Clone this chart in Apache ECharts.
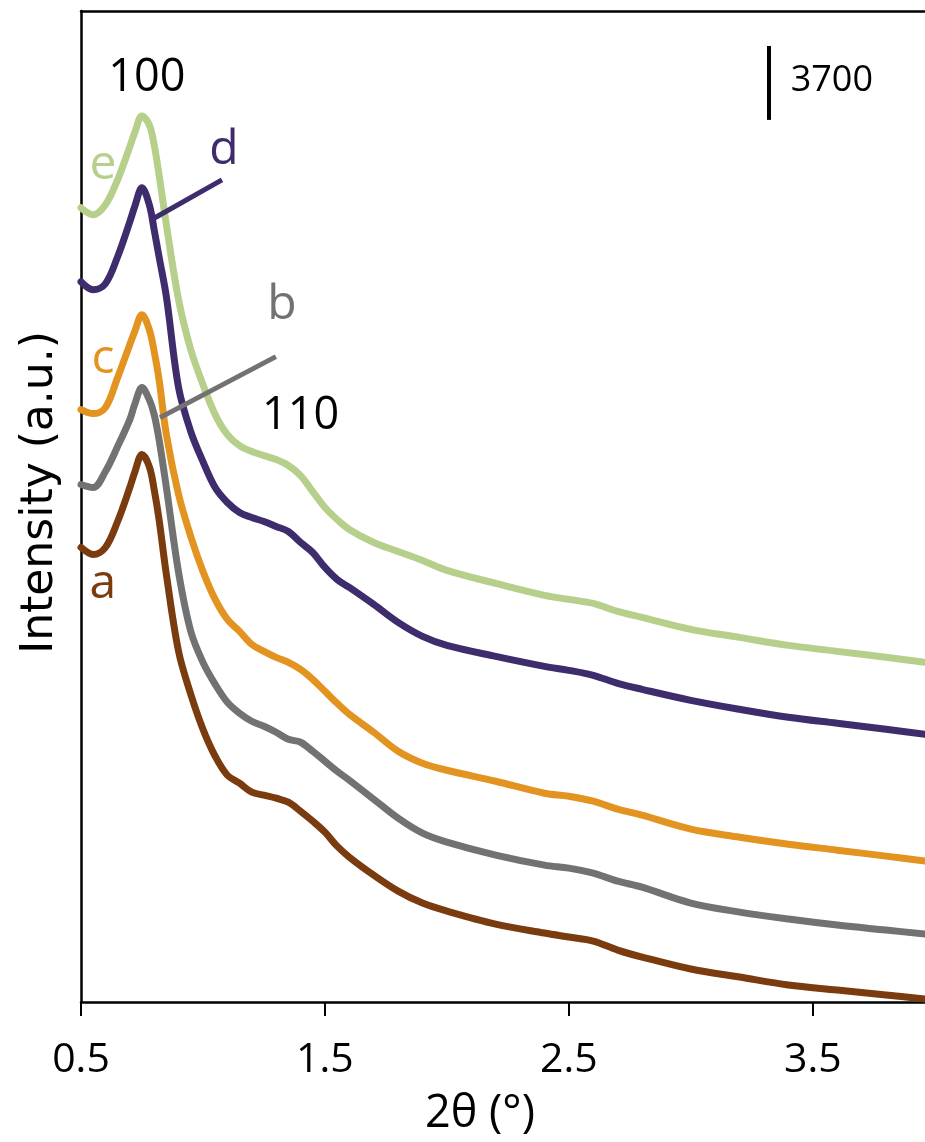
<!DOCTYPE html>
<html><head><meta charset="utf-8">
<script src="https://cdn.jsdelivr.net/npm/echarts@6/dist/echarts.min.js"></script>
<style>html,body{margin:0;padding:0;background:#fff}#chart{width:925px;height:1142px}</style>
</head><body><div id="chart"></div>
<script>
// 2θ (degrees)
const twoTheta = [0.5,0.55,0.6,0.65,0.7,0.72,0.75,0.78,0.8,0.82,0.85,0.9,0.95,1.0,1.05,1.1,1.15,1.2,1.25,1.3,1.35,1.4,1.45,1.5,1.55,1.6,1.7,1.8,1.9,2.0,2.2,2.4,2.5,2.6,2.7,2.8,3.0,3.2,3.4,3.6,3.8,3.96];
// intensities (counts, curves offset vertically)
const intensityA = [22750,22400,22750,24050,25750,26500,27400,26800,25650,24150,21400,17550,15400,13650,12300,11350,10950,10500,10350,10200,10000,9550,9050,8500,7800,7250,6350,5550,4950,4550,3900,3450,3250,3050,2600,2250,1650,1250,850,600,350,150];
const intensityB = [25900,25750,26550,27800,29150,29900,30750,30150,29400,28150,25750,21500,18550,17000,15900,15000,14450,14050,13800,13500,13150,13000,12550,12050,11550,11100,10150,9200,8450,8000,7350,6850,6700,6450,6050,5750,4950,4500,4150,3850,3600,3400];
const intensityC = [29650,29450,29750,31250,32900,33550,34400,33650,32550,31150,28400,25400,23300,21550,20150,19150,18550,17900,17550,17250,17000,16650,16150,15550,14950,14400,13500,12550,11950,11600,11050,10450,10300,10050,9650,9350,8650,8250,7900,7600,7300,7050];
const intensityD = [36050,35650,35950,37300,39050,39800,40750,39900,38650,37300,35300,30750,28550,27050,25750,25000,24500,24250,24050,23800,23550,23000,22500,21750,21150,20750,19900,19000,18300,17850,17300,16800,16600,16350,15950,15650,15100,14650,14250,13950,13650,13400];
const intensityE = [39750,39400,39900,41150,42800,43500,44350,43900,42900,41400,38900,35150,32650,30900,29400,28400,27850,27550,27350,27150,26850,26350,25550,24750,24150,23650,23000,22550,22100,21600,20950,20350,20150,19950,19550,19250,18650,18250,17850,17550,17250,17000];
const xTickValues = [0.5, 1.5, 2.5, 3.5];
const sampleNames = ['a', 'b', 'c', 'd', 'e'];
const peakLabels = ['100', '110'];
const scaleBarValue = 3700;

const FONT = "'Open Sans', 'Liberation Sans', sans-serif";
const colors = { a: '#7a3c0e', b: '#727272', c: '#e3931f', d: '#3e2c6c', e: '#b6d08c' };

function toPairs(ys) { return twoTheta.map((x, i) => [x, ys[i]]); }
function textPoint(text, coord, color, size) {
  return {
    coord: coord, value: text, symbol: 'circle', symbolSize: 1,
    itemStyle: { color: 'rgba(0,0,0,0)' },
    label: { show: true, position: 'inside', formatter: text, color: color, fontSize: size, fontFamily: FONT }
  };
}
function leader(from, to, color, width) {
  return { symbol: ['none', 'none'], silent: true, label: { show: false },
    lineStyle: { color: color, width: width, type: 'solid' },
    data: [[{ coord: from }, { coord: to }]] };
}
function lineSeries(name, ys, extra) {
  return Object.assign({
    name: name, type: 'line', data: toPairs(ys), showSymbol: false, symbol: 'none',
    smooth: 0.35,
    lineStyle: { color: colors[name], width: 7, join: 'round', cap: 'round' }, itemStyle: { color: colors[name] },
    emphasis: { disabled: true }
  }, extra || {});
}

const chart = echarts.init(document.getElementById('chart'), null, { renderer: 'canvas' });
chart.setOption({
  animation: false,
  backgroundColor: '#ffffff',
  grid: { left: 81, right: 0, top: 11, bottom: 139 },
  xAxis: [{
    type: 'value', min: 0.5, max: 3.96, position: 'bottom',
    name: '2θ (°)', nameLocation: 'middle', nameGap: 90,
    nameTextStyle: { fontSize: 45, color: '#000', fontFamily: FONT, padding: [0, 46, 0, 0] },
    axisLine: { show: true, onZero: false, lineStyle: { color: '#000', width: 2.5 } },
    axisTick: { show: true, inside: false, length: 14, customValues: xTickValues, lineStyle: { color: '#000', width: 2 } },
    axisLabel: { show: true, margin: 38, customValues: xTickValues, fontSize: 41, color: '#000', fontFamily: FONT,
      formatter: v => v.toFixed(1) },
    splitLine: { show: false }
  }, {
    type: 'value', min: 0.5, max: 3.96, position: 'top',
    axisLine: { show: true, onZero: false, lineStyle: { color: '#000', width: 2.5 } },
    axisTick: { show: false }, axisLabel: { show: false }, splitLine: { show: false }
  }],
  yAxis: {
    type: 'value', min: 0, max: 49600,
    name: 'Intensity (a.u.)', nameLocation: 'middle', nameGap: 18,
    nameTextStyle: { fontSize: 44, color: '#000', fontFamily: "'DejaVu Sans', sans-serif", padding: [0, 0, 0, 28] },
    axisLine: { show: true, onZero: false, lineStyle: { color: '#000', width: 2.5 } },
    axisTick: { show: false }, axisLabel: { show: false }, splitLine: { show: false }
  },
  series: [
    lineSeries('a', intensityA, { markPoint: { silent: true, data: [textPoint(sampleNames[0], [0.59, 20900], colors.a, 48)] } }),
    lineSeries('b', intensityB, {
      markPoint: { silent: true, data: [textPoint(sampleNames[1], [1.324, 34850], colors.b, 48)] },
      markLine: leader([0.824, 29250], [1.299, 32300], colors.b, 5)
    }),
    lineSeries('c', intensityC, { markPoint: { silent: true, data: [textPoint(sampleNames[2], [0.59, 32150], colors.c, 48)] } }),
    lineSeries('d', intensityD, {
      markPoint: { silent: true, data: [textPoint(sampleNames[3], [1.086, 42650], colors.d, 48)] },
      markLine: leader([0.803, 39250], [1.078, 41150], colors.d, 5)
    }),
    lineSeries('e', intensityE, {
      markPoint: { silent: true, data: [
        textPoint(sampleNames[4], [0.59, 41900], colors.e, 48),
        textPoint(peakLabels[0], [0.77, 46250], '#000', 45),
        textPoint(peakLabels[1], [1.40, 29300], '#000', 45),
        textPoint(String(scaleBarValue), [3.578, 46100], '#000', 36)
      ] },
      markLine: leader([3.32, 44150], [3.32, 44150 + scaleBarValue], '#000', 4)
    })
  ]
});
</script></body></html>
